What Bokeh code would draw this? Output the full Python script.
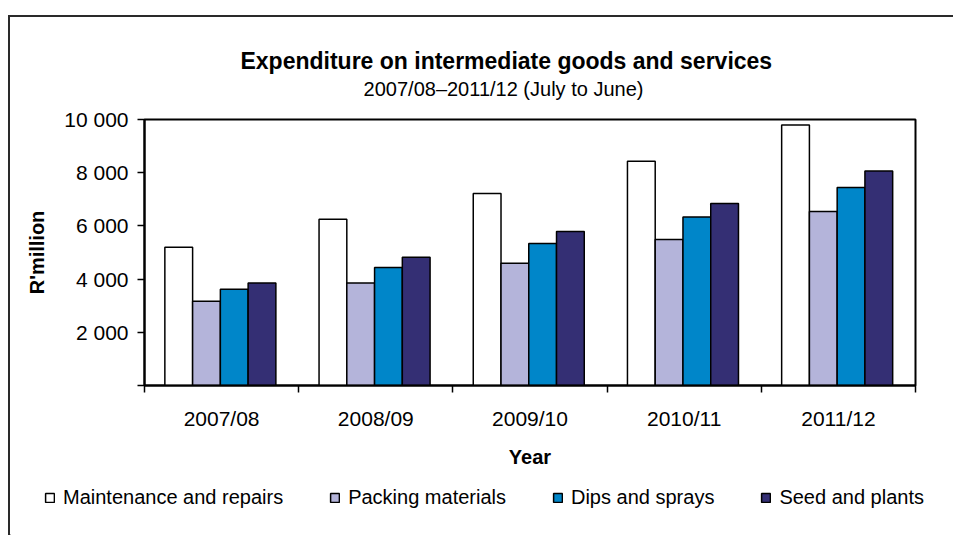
from bokeh.plotting import figure
from bokeh.models import (FixedTicker, Legend, LegendItem, ColumnDataSource, Range1d, Label)
from bokeh.transform import dodge
from bokeh.embed import file_html
from bokeh.resources import INLINE

# ---- data ----
years = ["2007/08", "2008/09", "2009/10", "2010/11", "2011/12"]
maintenance = [5200, 6250, 7220, 8430, 9790]
packing = [3170, 3850, 4600, 5490, 6540]
dips = [3620, 4440, 5340, 6330, 7440]
seed = [3850, 4820, 5790, 6840, 8060]
series_names = ["Maintenance and repairs", "Packing materials", "Dips and sprays", "Seed and plants"]
series_colors = ["#FFFFFF", "#B4B4DA", "#0086C9", "#342F74"]
y_ticks = [0, 2000, 4000, 6000, 8000, 10000]
y_tick_labels = ["", "2 000", "4 000", "6 000", "8 000", "10 000"]
title_text = "Expenditure on  intermediate goods and services"
subtitle_text = "2007/08\u20132011/12 (July to June)"
x_label = "Year"
y_label = "R'million"

FONT = "Liberation Sans"
W = 945
FRAME = "2px solid #2a2a2a"


def strip(height):
    f = figure(width=W, height=height, x_range=Range1d(0, 1), y_range=Range1d(0, 1),
               output_backend="svg", toolbar_location=None, title_location=None,
               x_axis_type=None, y_axis_type=None,
               min_border_left=0, min_border_right=0, min_border_top=0, min_border_bottom=0)
    f.grid.visible = False
    f.outline_line_color = None
    f.background_fill_color = "white"
    f.border_fill_color = "white"
    return f


# ---- header with title and subtitle ----
HEADER_H = 90
header = strip(HEADER_H)
header.styles = {"border-left": FRAME, "border-top": FRAME,
                 "position": "relative", "left": "8px", "top": "15px"}
header.add_layout(Label(x=499, y=HEADER_H - 43, x_units="screen", y_units="screen",
                        text=title_text, text_font=FONT, text_font_size="23px",
                        text_font_style="bold", text_color="black",
                        text_align="center", text_baseline="middle"))
header.add_layout(Label(x=493, y=HEADER_H - 71, x_units="screen", y_units="screen",
                        text=subtitle_text, text_font=FONT, text_font_size="20px",
                        text_color="black", text_align="center", text_baseline="middle"))

# ---- main chart ----
n = len(years)
x_centers = [i + 0.5 for i in range(n)]
src = ColumnDataSource(dict(x=x_centers, year=years, m=maintenance, p=packing, d=dips, s=seed))
cols = ["m", "p", "d", "s"]

p = figure(width=W, height=375, x_range=Range1d(0, n), y_range=Range1d(0, 10000),
           output_backend="svg", toolbar_location=None, title_location=None,
           min_border_left=134, min_border_right=W - 905, min_border_top=14, min_border_bottom=95)
p.styles = {"border-left": FRAME, "position": "relative", "left": "8px", "top": "15px"}
p.grid.visible = False
p.outline_line_color = "black"
p.outline_line_width = 2
p.background_fill_color = "white"
p.border_fill_color = "white"

bw = 0.18
for j, c in enumerate(cols):
    p.vbar(x=dodge("x", (j - 1.5) * bw - 0.008, range=p.x_range), top=c, width=bw, source=src,
           fill_color=series_colors[j], line_color="black", line_width=1.5)

# y axis
ya = p.yaxis[0]
ya.ticker = FixedTicker(ticks=y_ticks)
ya.major_label_overrides = {t: l for t, l in zip(y_ticks, y_tick_labels)}
ya.major_tick_out = 7
ya.major_tick_in = 0
ya.minor_tick_out = 0
ya.minor_tick_in = 0
ya.axis_line_width = 2
ya.major_tick_line_width = 1.5
ya.major_label_standoff = 9
ya.major_label_text_font = FONT
ya.major_label_text_font_size = "21px"
ya.major_label_text_color = "black"
ya.axis_label = y_label
ya.axis_label_text_font = FONT
ya.axis_label_text_font_style = "bold"
ya.axis_label_text_font_size = "20px"
ya.axis_label_text_color = "black"
ya.axis_label_standoff = 13

# x axis
xa = p.xaxis[0]
xa.ticker = FixedTicker(ticks=x_centers, minor_ticks=list(range(n + 1)))
xa.major_label_overrides = {x: y for x, y in zip(x_centers, years)}
xa.major_tick_out = 0
xa.major_tick_in = 0
xa.minor_tick_out = 7
xa.minor_tick_in = 0
xa.minor_tick_line_color = "black"
xa.minor_tick_line_width = 1.5
xa.axis_line_width = 2
xa.major_label_standoff = 14
xa.major_label_text_font = FONT
xa.major_label_text_font_size = "21px"
xa.major_label_text_color = "black"
xa.axis_label = x_label
xa.axis_label_text_font = FONT
xa.axis_label_text_font_style = "bold"
xa.axis_label_text_font_size = "20px"
xa.axis_label_text_color = "black"
xa.axis_label_standoff = 13

# ---- legend strip ----
LEG_H = 55
lf = strip(LEG_H)
lf.styles = {"border-left": FRAME, "position": "relative", "left": "8px", "top": "15px"}
lrs = []
for j in range(4):
    # swatch renderers for the legend only (kept fully outside the strip's visible ranges)
    lrs.append(lf.vbar(x=[-5], top=[-5], bottom=[-6], width=0.1, fill_color=series_colors[j],
                       line_color="black", line_width=1.5))
legend = Legend(items=[LegendItem(label=series_names[j], renderers=[lrs[j]]) for j in range(4)],
                location=(34, 26), orientation="horizontal",
                padding=0, margin=0, spacing=46, label_standoff=8,
                glyph_width=11, glyph_height=11, label_height=11,
                label_text_font=FONT, label_text_font_size="20px", label_text_color="black",
                border_line_color=None, background_fill_alpha=0)
lf.add_layout(legend, "center")

open("out.html", "w").write(file_html([header, p, lf], INLINE))
